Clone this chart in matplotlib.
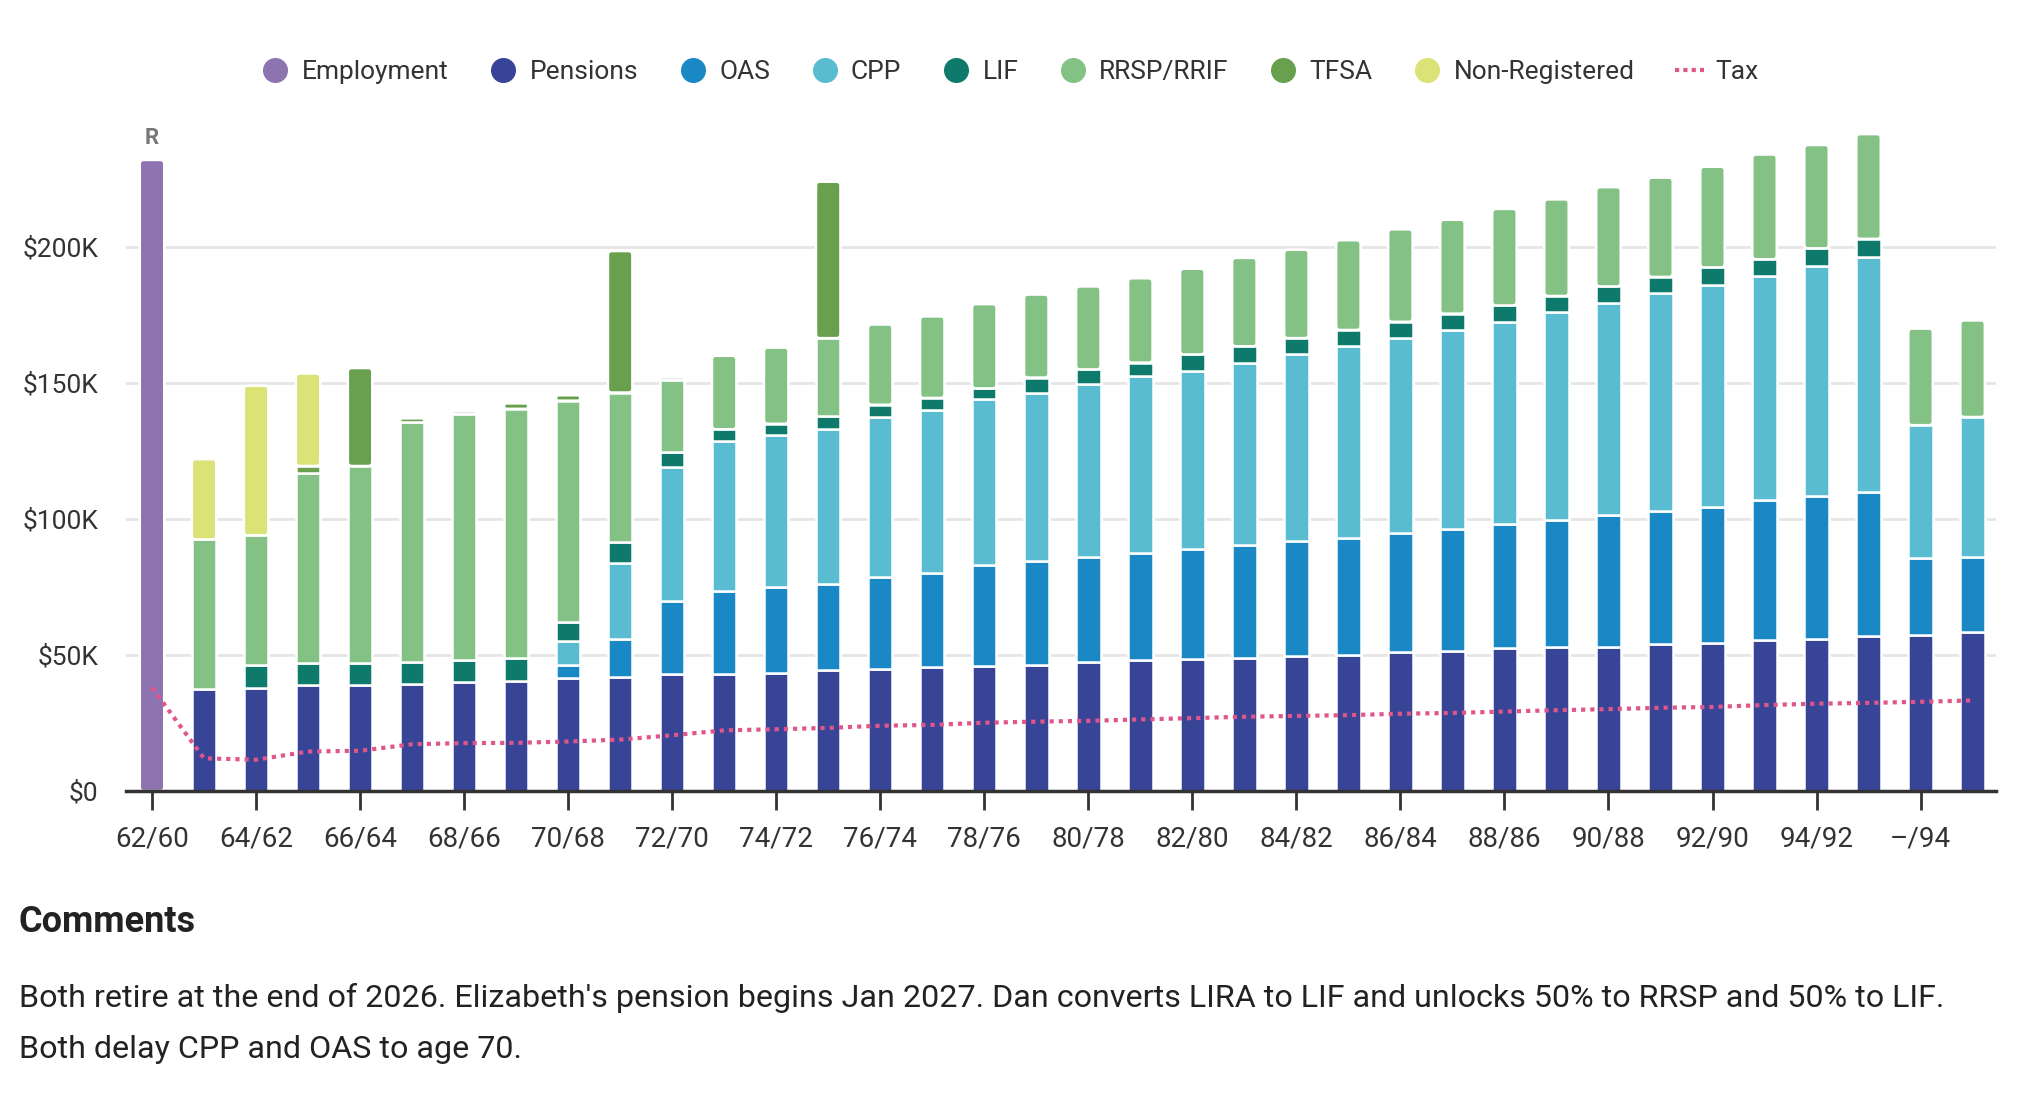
import numpy as np
import matplotlib.pyplot as plt
from matplotlib.lines import Line2D
from matplotlib.patches import FancyBboxPatch

plt.rcParams['font.family'] = ['Roboto', 'DejaVu Sans']

# ages (first/second spouse), one bar per year
ages = [f"{62 + i}/{60 + i}" for i in range(34)] + ["\u2013/94", "\u2013/95"]

# values in $K per segment
employment = [232] + [0] * 35
pensions = [0, 37.5, 38, 39, 39, 39.5, 40, 40.5, 41.5, 42, 43, 43, 43.5, 44.5, 45, 45.5, 46, 46.5,
            47.5, 48, 48.5, 49, 49.5, 50, 51, 51.5, 52.5, 53, 53, 54, 54.5, 55.5, 56, 57, 57.5, 58.5]
oas = [0, 0, 0, 0, 0, 0, 0, 0, 5, 14, 27, 30.5, 31.5, 31.5, 33.5, 34.5, 37, 38,
       38.5, 39.5, 40.5, 41.5, 42.5, 43, 44, 45, 45.5, 46.5, 48.5, 49, 50, 51.5, 52.5, 53, 28, 27.5]
cpp = [0, 0, 0, 0, 0, 0, 0, 0, 8.5, 28, 49, 55, 56, 57, 59, 60, 61, 62,
       63.5, 65, 65.5, 67, 68.5, 70.5, 71.5, 73, 74.5, 76.5, 78, 80, 81.5, 82.5, 84.5, 86.5, 49, 51.5]
lif = [0, 0, 8.5, 8, 8, 8, 8, 8.5, 7, 7.5, 5.5, 4.5, 4, 5, 4.5, 4.5, 4, 5.5,
       5.5, 5, 6, 6, 6, 6, 6, 6, 6, 6, 6, 6, 6.5, 6, 6.5, 6.5, 0, 0]
rrsp = [0, 55, 47.5, 70, 72.5, 88, 90.5, 91.5, 81.5, 55, 26.5, 27, 28, 28.5, 29.5, 30, 31, 30.5,
        30.5, 31, 31.5, 32.5, 32.5, 33, 34, 34.5, 35.5, 35.5, 36.5, 36.5, 37, 38.5, 38, 38.5, 35.5, 35.5]
tfsa = [0, 0, 0, 2.5, 36, 1.5, 1, 2, 2, 52, 1, 0, 0, 57.5, 0, 0, 0, 0,
        0, 0, 0, 0, 0, 0, 0, 0, 0, 0, 0, 0, 0, 0, 0, 0, 0, 0]
non_reg = [0, 29.5, 55, 34, 0, 0, 0, 0, 0, 0, 0, 0, 0, 0, 0, 0, 0, 0,
           0, 0, 0, 0, 0, 0, 0, 0, 0, 0, 0, 0, 0, 0, 0, 0, 0, 0]
tax = [38, 12, 11.5, 14.5, 14.8, 17.2, 17.6, 17.7, 18.2, 18.9, 20.5, 22.3, 22.7, 23.2, 24, 24.3, 25.1, 25.5,
       25.8, 26.3, 26.8, 27.3, 27.6, 27.9, 28.4, 28.7, 29.2, 29.7, 30.1, 30.6, 30.9, 31.6, 32.1, 32.4, 32.8, 33.3]

series = [
    ("Employment", employment, "#8d74b0"),
    ("Pensions", pensions, "#384496"),
    ("OAS", oas, "#1b88c6"),
    ("CPP", cpp, "#5abcd1"),
    ("LIF", lif, "#0e7a6b"),
    ("RRSP/RRIF", rrsp, "#84c185"),
    ("TFSA", tfsa, "#68a04e"),
    ("Non-Registered", non_reg, "#dbe377"),
]
tax_color = "#e0568a"

fig = plt.figure(figsize=(20.2, 10.94), dpi=100)
ax = fig.add_axes([126 / 2020, 1 - 791 / 1094, (1996 - 126) / 2020, 680 / 1094])

n = len(ages)
x = np.arange(n)
W = 0.47
vals_all = np.array([s[1] for s in series], dtype=float)
# index of the top segment for each bar (gets rounded corners)
top_idx = np.array([np.nonzero(vals_all[:, i])[0].max() for i in range(n)])

bottom = np.zeros(n)
tops = []
for k, (name, vals, col) in enumerate(series):
    vals = vals_all[k]
    sel = (vals > 0) & (top_idx != k)
    ax.bar(x[sel], vals[sel], W, bottom=bottom[sel], color=col, edgecolor="white", linewidth=1.8, zorder=3)
    for i in np.nonzero((vals > 0) & (top_idx == k))[0]:
        tops.append((i, bottom[i], vals[i], col))
    bottom += vals

# rounded top segments
aspect = (4 / 2.72) / (4 / 52.0)
for i, b, h, col in tops:
    r = min(0.075, h / aspect / 2)
    p = FancyBboxPatch((i - W / 2, b), W, h, boxstyle=f"round,pad=0,rounding_size={r}",
                       mutation_aspect=aspect, fc=col, ec="white", lw=1.8, zorder=3)
    ax.add_patch(p)

ax.plot(x, tax, color=tax_color, linestyle=(0, (1, 1.2)), linewidth=3, zorder=4)

ax.text(0, 236, "R", ha="center", va="bottom", fontsize=16, fontweight="bold", color="#777777")

ax.set_xlim(-0.5, 35.45)
ax.set_ylim(0, 250)
ax.set_yticks([0, 50, 100, 150, 200])
ax.set_yticklabels(["$0", "$50K", "$100K", "$150K", "$200K"])
ax.grid(axis="y", color="#e6e6e6", linewidth=2, zorder=0)
ax.set_xticks(x[::2])
ax.set_xticklabels(ages[::2])
ax.tick_params(axis="y", length=0, pad=20, labelsize=19, labelcolor="#333333")
ax.tick_params(axis="x", length=14, width=2, color="#333333", pad=11, labelsize=20, labelcolor="#333333")
for s in ["top", "right", "left"]:
    ax.spines[s].set_visible(False)
ax.spines["bottom"].set_color("#333333")
ax.spines["bottom"].set_linewidth(2.5)
ax.spines["bottom"].set_zorder(5)

handles = [Line2D([], [], marker="o", linestyle="none", markersize=17, color=c) for _, _, c in series]
handles.append(Line2D([], [], color=tax_color, linestyle=(0, (1, 1)), linewidth=3))
labels = [n for n, _, _ in series] + ["Tax"]
fig.legend(handles, labels, loc="center", bbox_to_anchor=(0.5, 1 - 72 / 1094), ncol=9, frameon=False,
           fontsize=19, handlelength=1.1, handletextpad=0.45, columnspacing=1.52,
           labelcolor="#333333")

fig.text(19 / 2020, 1 - 922 / 1094, "Comments", fontsize=26, fontweight="bold", color="#222222", va="center")
fig.text(19 / 2020, 1 - 998 / 1094,
         "Both retire at the end of 2026. Elizabeth's pension begins Jan 2027. Dan converts LIRA to LIF "
         "and unlocks 50% to RRSP and 50% to LIF.",
         fontsize=23.2, color="#222222", va="center")
fig.text(19 / 2020, 1 - 1049 / 1094, "Both delay CPP and OAS to age 70.",
         fontsize=23.2, color="#222222", va="center")

fig.savefig("out.png", dpi=100)
